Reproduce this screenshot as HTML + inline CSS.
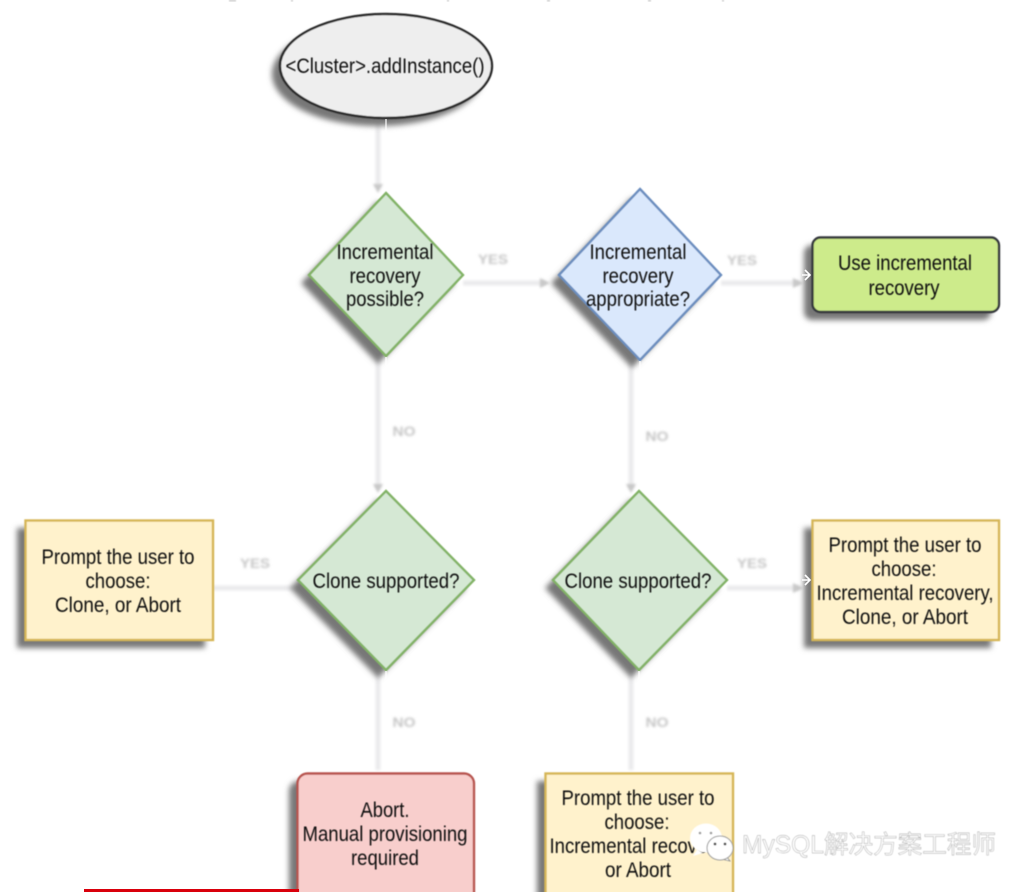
<!DOCTYPE html>
<html><head><meta charset="utf-8"><style>
html,body{margin:0;padding:0;background:#fff;width:1030px;height:892px;overflow:hidden}
svg{display:block}
text{font-family:"Liberation Sans",sans-serif;font-size:21px;fill:#111;text-anchor:middle}
.l{font-size:14px;font-weight:bold;fill:#c6c6c6}
.w{font-family:"Liberation Sans","Noto Sans CJK SC",sans-serif;font-size:25px;fill:#fff;stroke:#a0a0a0;stroke-width:.45px;text-anchor:start}
</style></head><body>
<svg width="1030" height="892" viewBox="0 0 1030 892" xmlns="http://www.w3.org/2000/svg">
<defs>
<filter id="s" x="-20%" y="-20%" width="140%" height="140%"><feGaussianBlur stdDeviation="2.8"/></filter>
<filter id="b" x="-10%" y="-10%" width="120%" height="120%"><feGaussianBlur stdDeviation=".55"/></filter>
<filter id="c" x="-50%" y="-50%" width="200%" height="200%"><feGaussianBlur stdDeviation="1.2"/></filter>
<filter id="t" x="-5%" y="-20%" width="110%" height="140%"><feGaussianBlur stdDeviation=".4"/></filter>
<filter id="lb" x="-30%" y="-50%" width="160%" height="200%"><feGaussianBlur stdDeviation="1.4"/></filter>
</defs>

<!-- connector shadows -->
<g filter="url(#c)" stroke="#ebebed" stroke-width="5" fill="none">
<path d="M378 120V186M378 358V488M631 362V488M378 672V770M631 672V770"/>
<path d="M463 283H545M721 283H800M213 588H294M727 588H800"/>
</g>
<g filter="url(#c)" fill="#c8c8c8">
<path d="M373 184h10l-5 9zM373 484h10l-5 9zM626 484h10l-5 9z"/>
<path d="M540 278v10l10-5zM793 278v10l10-5zM793 583v10l10-5z"/>
</g>

<!-- shape shadows -->
<g filter="url(#s)" fill="#777">
<ellipse cx="378" cy="74" rx="106" ry="52"/>
<path d="M378 201L455 283L378 364L301 283Z"/>
<path d="M632 197L713 283L632 368L551 283Z"/>
<path d="M378 499L466 588L378 678L290 588Z"/>
<path d="M631 499L719 588L631 678L545 588Z"/>
<rect x="804" y="245" width="187" height="75" rx="8"/>
<rect x="17" y="528" width="188" height="120"/>
<rect x="804" y="528" width="187" height="120"/>
<rect x="289" y="781" width="177" height="130" rx="10"/>
<rect x="537" y="781" width="188" height="130"/>
</g>

<!-- shapes -->
<g filter="url(#b)" stroke-width="2.4">
<ellipse cx="386" cy="66" rx="106" ry="52" fill="#eeeeee" stroke="#2a2a2a"/>
<path d="M386 193L463 275L386 356L309 275Z" fill="#d5e8d4" stroke="#82b366"/>
<path d="M640 189L721 275L640 360L559 275Z" fill="#dae8fc" stroke="#6c8ebf"/>
<path d="M386 491L474 580L386 670L298 580Z" fill="#d5e8d4" stroke="#82b366"/>
<path d="M639 491L727 580L639 670L553 580Z" fill="#d5e8d4" stroke="#82b366"/>
<rect x="812.500" y="237.500" width="186.500" height="74.500" rx="8" fill="#cdeb8b" stroke="#36393d"/>
<rect x="25.500" y="520.500" width="187.500" height="119.500" fill="#fff2cc" stroke="#d6b656"/>
<rect x="812.500" y="520.500" width="186.500" height="119.500" fill="#fff2cc" stroke="#d6b656"/>
<rect x="297.500" y="773.500" width="176.500" height="130" rx="10" fill="#f8cecc" stroke="#b85450"/>
<rect x="545.500" y="773.500" width="187.500" height="130" fill="#fff2cc" stroke="#d6b656"/>
</g>

<!-- white connector remnants -->
<g stroke="#fff" stroke-width="1.2" fill="none">
<path d="M386 119V134M386 357V372M640 361V376M386 671V686M639 671V686"/>
<path d="M802 275H809M805 270L810 275L805 280M802 580H809M805 575L810 580L805 585" stroke-width="1.6"/>
</g>

<!-- red line -->
<rect x="84" y="889" width="215" height="3" fill="#d9000c"/>

<!-- labels -->
<g filter="url(#lb)">
<text class="l" x="493" y="264" textLength="30" lengthAdjust="spacingAndGlyphs">YES</text>
<text class="l" x="742" y="265" textLength="30" lengthAdjust="spacingAndGlyphs">YES</text>
<text class="l" x="255" y="568" textLength="30" lengthAdjust="spacingAndGlyphs">YES</text>
<text class="l" x="752" y="568" textLength="30" lengthAdjust="spacingAndGlyphs">YES</text>
<text class="l" x="404" y="436" textLength="23" lengthAdjust="spacingAndGlyphs">NO</text>
<text class="l" x="657" y="441" textLength="23" lengthAdjust="spacingAndGlyphs">NO</text>
<text class="l" x="404" y="727" textLength="23" lengthAdjust="spacingAndGlyphs">NO</text>
<text class="l" x="657" y="727" textLength="23" lengthAdjust="spacingAndGlyphs">NO</text>
</g>

<!-- text -->
<g filter="url(#t)">
<text x="385" y="73" textLength="199" lengthAdjust="spacingAndGlyphs">&lt;Cluster&gt;.addInstance()</text>
<text x="385" y="259" textLength="97" lengthAdjust="spacingAndGlyphs">Incremental</text>
<text x="385" y="283" textLength="71" lengthAdjust="spacingAndGlyphs">recovery</text>
<text x="385" y="306" textLength="78" lengthAdjust="spacingAndGlyphs">possible?</text>
<text x="638" y="259" textLength="97" lengthAdjust="spacingAndGlyphs">Incremental</text>
<text x="638" y="283" textLength="71" lengthAdjust="spacingAndGlyphs">recovery</text>
<text x="638" y="306" textLength="104" lengthAdjust="spacingAndGlyphs">appropriate?</text>
<text x="905" y="270" textLength="134" lengthAdjust="spacingAndGlyphs">Use incremental</text>
<text x="904" y="295" textLength="71" lengthAdjust="spacingAndGlyphs">recovery</text>
<text x="118" y="564" textLength="153" lengthAdjust="spacingAndGlyphs">Prompt the user to</text>
<text x="118" y="588" textLength="65" lengthAdjust="spacingAndGlyphs">choose:</text>
<text x="118" y="612" textLength="126" lengthAdjust="spacingAndGlyphs">Clone, or Abort</text>
<text x="386" y="588" textLength="147" lengthAdjust="spacingAndGlyphs">Clone supported?</text>
<text x="638" y="588" textLength="147" lengthAdjust="spacingAndGlyphs">Clone supported?</text>
<text x="905" y="552" textLength="153" lengthAdjust="spacingAndGlyphs">Prompt the user to</text>
<text x="904" y="576" textLength="65" lengthAdjust="spacingAndGlyphs">choose:</text>
<text x="905" y="600" textLength="177" lengthAdjust="spacingAndGlyphs">Incremental recovery,</text>
<text x="905" y="624" textLength="126" lengthAdjust="spacingAndGlyphs">Clone, or Abort</text>
<text x="385" y="817" textLength="49" lengthAdjust="spacingAndGlyphs">Abort.</text>
<text x="385" y="841" textLength="165" lengthAdjust="spacingAndGlyphs">Manual provisioning</text>
<text x="385" y="865" textLength="68" lengthAdjust="spacingAndGlyphs">required</text>
<text x="638" y="805" textLength="153" lengthAdjust="spacingAndGlyphs">Prompt the user to</text>
<text x="637" y="829" textLength="65" lengthAdjust="spacingAndGlyphs">choose:</text>
<text x="638" y="853" textLength="177" lengthAdjust="spacingAndGlyphs">Incremental recovery,</text>
<text x="638" y="877" textLength="66" lengthAdjust="spacingAndGlyphs">or Abort</text>
</g>

<!-- watermark -->
<g filter="url(#t)">
<ellipse cx="706" cy="838" rx="16" ry="14.500" fill="#fff"/>
<path d="M697 850l-4 6 10-3z" fill="#fff"/>
<circle cx="700" cy="833" r="1.3" fill="#999"/><circle cx="711" cy="833" r="1.3" fill="#999"/>
<path d="M726 856l4 5-9-2z" fill="#fff" stroke="#888" stroke-width=".8"/>
<ellipse cx="720" cy="848" rx="13" ry="12" fill="#fff" stroke="#999" stroke-width="1"/>
<circle cx="715" cy="844" r="1.4" fill="#444"/><circle cx="725" cy="844" r="1.4" fill="#444"/>
<text class="w" x="742" y="853" textLength="254" lengthAdjust="spacingAndGlyphs">MySQL解决方案工程师</text>
</g>

<!-- top remnants -->
<g fill="#ccc" filter="url(#t)">
<rect x="229" y="0" width="7" height="1.500"/><rect x="291" y="0" width="2" height="1.500"/><rect x="447" y="0" width="2" height="1.500"/><rect x="547" y="0" width="3" height="1.500"/><rect x="648" y="0" width="3" height="1.500"/><rect x="722" y="0" width="2" height="1.500"/>
</g>
</svg>
</body></html>
